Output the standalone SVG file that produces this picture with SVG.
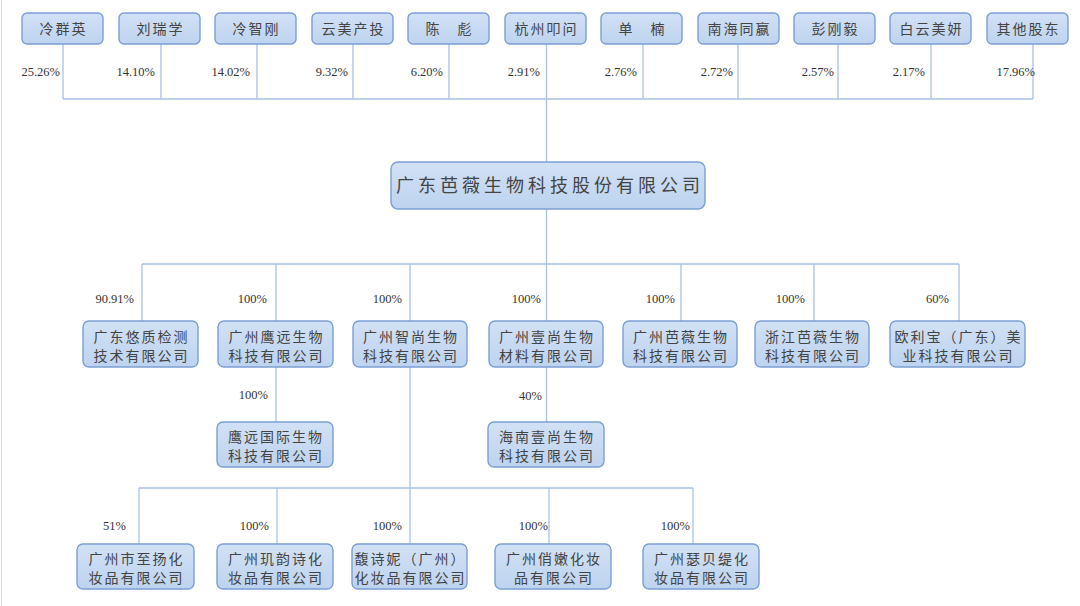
<svg xmlns="http://www.w3.org/2000/svg" width="1080" height="606" viewBox="0 0 1080 606">
<defs>
<linearGradient id="g" x1="0" y1="0" x2="0" y2="1">
<stop offset="0" stop-color="#d2e1f5"/>
<stop offset="1" stop-color="#bdd3ef"/>
</linearGradient>
</defs>
<style>
.box{fill:url(#g);stroke:#7c9fd3;stroke-width:1.4}
.t{font-family:"Noto Sans CJK SC","Noto Sans CJK JP",sans-serif;font-size:14px;letter-spacing:2px;fill:#444;text-anchor:middle}
.tm{font-family:"Noto Sans CJK SC","Noto Sans CJK JP",sans-serif;font-size:18px;letter-spacing:4px;fill:#444;text-anchor:middle}
.p{font-family:"Liberation Serif","Times New Roman",serif;font-size:12.5px;fill:#333;text-anchor:end}
.c{stroke:#a9c1e2;stroke-width:1.3;fill:none}
</style>
<rect x="0" y="0" width="1080" height="606" fill="#fff"/>
<line x1="1.5" y1="0" x2="1.5" y2="606" stroke="#ddd" stroke-width="1"/>
<g id="connectors">
<path class="c" d="M63 44V99M161 44V99M257 44V99M353 44V99M449 44V99M546.5 44V162M643 44V99M738 44V99M838 44V99M931 44V99M1033 44V99M63 99H1033"/>
<path class="c" d="M546.5 209V321M142 264H959M142 264V321M276 264V321M410 264V321M681 264V321M814 264V321M959 264V321"/>
<path class="c" d="M276 367V422M546.5 367V422M410 367V544M139 488H693M139 488V544M277 488V544M549 488V544M693 488V544"/>
</g>
<g id="labels">
<text class="p" x="60" y="76">25.26%</text>
<text class="p" x="155" y="76">14.10%</text>
<text class="p" x="250" y="76">14.02%</text>
<text class="p" x="348" y="76">9.32%</text>
<text class="p" x="443" y="76">6.20%</text>
<text class="p" x="540" y="76">2.91%</text>
<text class="p" x="637" y="76">2.76%</text>
<text class="p" x="733" y="76">2.72%</text>
<text class="p" x="834" y="76">2.57%</text>
<text class="p" x="925" y="76">2.17%</text>
<text class="p" x="1035" y="76">17.96%</text>
<text class="p" x="134" y="303">90.91%</text>
<text class="p" x="267" y="303">100%</text>
<text class="p" x="402" y="303">100%</text>
<text class="p" x="541" y="303">100%</text>
<text class="p" x="675" y="303">100%</text>
<text class="p" x="805" y="303">100%</text>
<text class="p" x="949" y="303">60%</text>
<text class="p" x="268" y="399">100%</text>
<text class="p" x="542" y="400">40%</text>
<text class="p" x="126" y="530">51%</text>
<text class="p" x="269" y="530">100%</text>
<text class="p" x="402" y="530">100%</text>
<text class="p" x="548" y="530">100%</text>
<text class="p" x="690" y="530">100%</text>
</g>
<g id="s1"><rect class="box" x="22" y="13" width="81" height="31" rx="5"/><text class="t" x="63.5" y="34">冷群英</text></g>
<g id="s2"><rect class="box" x="119" y="13" width="81" height="31" rx="5"/><text class="t" x="160.5" y="34">刘瑞学</text></g>
<g id="s3"><rect class="box" x="215" y="13" width="81" height="31" rx="5"/><text class="t" x="256.5" y="34">冷智刚</text></g>
<g id="s4"><rect class="box" x="312" y="13" width="81" height="31" rx="5"/><text class="t" x="353.5" y="34">云美产投</text></g>
<g id="s5"><rect class="box" x="408" y="13" width="81" height="31" rx="5"/><text class="t" x="449.5" y="34">陈　彪</text></g>
<g id="s6"><rect class="box" x="505" y="13" width="81" height="31" rx="5"/><text class="t" x="546.5" y="34">杭州叩问</text></g>
<g id="s7"><rect class="box" x="601" y="13" width="81" height="31" rx="5"/><text class="t" x="642.5" y="34">单　楠</text></g>
<g id="s8"><rect class="box" x="698" y="13" width="81" height="31" rx="5"/><text class="t" x="739.5" y="34">南海同嬴</text></g>
<g id="s9"><rect class="box" x="794" y="13" width="81" height="31" rx="5"/><text class="t" x="835.5" y="34">彭刚毅</text></g>
<g id="s10"><rect class="box" x="890" y="13" width="81" height="31" rx="5"/><text class="t" x="931.5" y="34">白云美妍</text></g>
<g id="s11"><rect class="box" x="987" y="13" width="81" height="31" rx="5"/><text class="t" x="1028.5" y="34">其他股东</text></g>
<g id="main"><rect class="box" x="391" y="162" width="314" height="47" rx="7"/><text class="tm" x="550" y="192">广东芭薇生物科技股份有限公司</text></g>
<g id="m1"><rect class="box" x="83" y="321" width="115" height="46" rx="6"/><text class="t" x="141.5" y="342">广东悠质检测</text><text class="t" x="141.5" y="361">技术有限公司</text></g>
<g id="m2"><rect class="box" x="218" y="321" width="115" height="46" rx="6"/><text class="t" x="276.5" y="342">广州鹰远生物</text><text class="t" x="276.5" y="361">科技有限公司</text></g>
<g id="m3"><rect class="box" x="353" y="321" width="114" height="46" rx="6"/><text class="t" x="411" y="342">广州智尚生物</text><text class="t" x="411" y="361">科技有限公司</text></g>
<g id="m4"><rect class="box" x="489" y="321" width="114" height="46" rx="6"/><text class="t" x="547" y="342">广州壹尚生物</text><text class="t" x="547" y="361">材料有限公司</text></g>
<g id="m5"><rect class="box" x="623" y="321" width="114" height="46" rx="6"/><text class="t" x="681" y="342">广州芭薇生物</text><text class="t" x="681" y="361">科技有限公司</text></g>
<g id="m6"><rect class="box" x="755" y="321" width="114" height="46" rx="6"/><text class="t" x="813" y="342">浙江芭薇生物</text><text class="t" x="813" y="361">科技有限公司</text></g>
<g id="m7"><rect class="box" x="890" y="321" width="135" height="46" rx="6"/><text class="t" x="958.5" y="342">欧利宝（广东）美</text><text class="t" x="958.5" y="361">业科技有限公司</text></g>
<g id="m2a"><rect class="box" x="217" y="422" width="116" height="45" rx="6"/><text class="t" x="276" y="442">鹰远国际生物</text><text class="t" x="276" y="461">科技有限公司</text></g>
<g id="m4a"><rect class="box" x="488" y="422" width="116" height="45" rx="6"/><text class="t" x="547" y="442">海南壹尚生物</text><text class="t" x="547" y="461">科技有限公司</text></g>
<g id="b1"><rect class="box" x="77" y="544" width="117" height="45" rx="6"/><text class="t" x="136.5" y="564">广州市至扬化</text><text class="t" x="136.5" y="583">妆品有限公司</text></g>
<g id="b2"><rect class="box" x="217" y="544" width="116" height="45" rx="6"/><text class="t" x="276" y="564">广州玑韵诗化</text><text class="t" x="276" y="583">妆品有限公司</text></g>
<g id="b3"><rect class="box" x="352" y="544" width="115" height="45" rx="6"/><text class="t" x="410.5" y="564">馥诗妮（广州）</text><text class="t" x="410.5" y="583">化妆品有限公司</text></g>
<g id="b4"><rect class="box" x="495" y="544" width="116" height="45" rx="6"/><text class="t" x="554" y="564">广州俏嫩化妆</text><text class="t" x="554" y="583">品有限公司</text></g>
<g id="b5"><rect class="box" x="643" y="544" width="116" height="45" rx="6"/><text class="t" x="702" y="564">广州瑟贝缇化</text><text class="t" x="702" y="583">妆品有限公司</text></g>
</svg>
